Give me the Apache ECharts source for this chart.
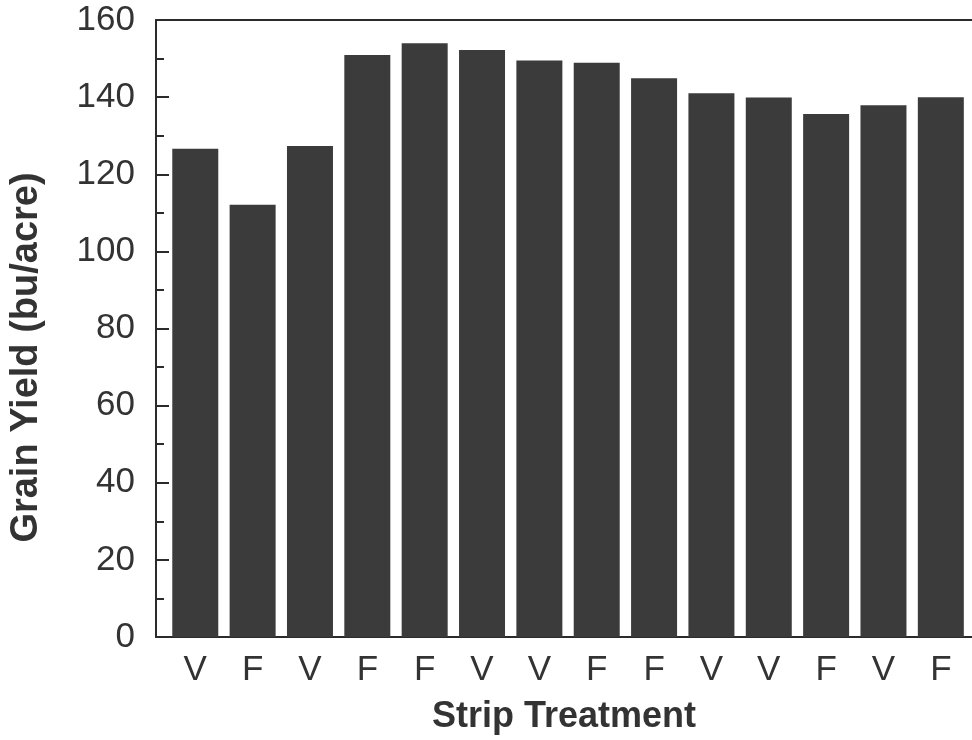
<!DOCTYPE html>
<html>
<head>
<meta charset="utf-8">
<script src="https://cdn.jsdelivr.net/npm/echarts@6/dist/echarts.min.js"></script>
<style>
  html, body { margin: 0; padding: 0; background: #fff; }
  #chart { width: 972px; height: 740px; }
</style>
</head>
<body>
<div id="chart"></div>
<script>
// Data
const categories = ['V', 'F', 'V', 'F', 'F', 'V', 'V', 'F', 'F', 'V', 'V', 'F', 'V', 'F'];
const yieldValues = [126.6, 112.1, 127.3, 150.9, 154.0, 152.2, 149.5, 148.9, 144.9, 141.0, 139.9, 135.6, 137.9, 140.0];
const yMin = 0;
const yMax = 160;
const yStep = 20;
const xTitle = 'Strip Treatment';
const yTitle = 'Grain Yield (bu/acre)';

const FONT = '"Liberation Sans", Arial, Helvetica, sans-serif';
const INK = '#333333';
const AXIS = '#2b2b2b';
const BAR = '#3b3b3b';

const chart = echarts.init(document.getElementById('chart'), null, { renderer: 'canvas' });

chart.setOption({
  backgroundColor: '#ffffff',
  animation: false,
  grid: [
    { left: 152, right: 0, top: 20, bottom: 103 },
    { left: 166.6, right: 2.5, top: 20, bottom: 103 }
  ],
  xAxis: [
    {
      gridIndex: 0, type: 'value', min: 0, max: 1, position: 'bottom',
      axisLine: { show: true, lineStyle: { color: AXIS, width: 2 } },
      axisTick: { show: false }, axisLabel: { show: false }, splitLine: { show: false },
      name: xTitle, nameLocation: 'middle', nameGap: 62,
      nameTextStyle: { fontFamily: FONT, fontSize: 36, fontWeight: 'bold', color: INK }
    },
    {
      gridIndex: 0, type: 'value', min: 0, max: 1, position: 'top',
      axisLine: { show: true, lineStyle: { color: AXIS, width: 2 } },
      axisTick: { show: false }, axisLabel: { show: false }, splitLine: { show: false }
    },
    {
      gridIndex: 1, type: 'category', data: categories,
      axisLine: { show: false }, axisTick: { show: false }, splitLine: { show: false },
      axisLabel: { fontFamily: FONT, fontSize: 35, color: INK, margin: 16, interval: 0 }
    }
  ],
  yAxis: [
    {
      gridIndex: 0, type: 'value', min: yMin, max: yMax, interval: yStep,
      axisLine: { show: true, lineStyle: { color: AXIS, width: 2 } },
      axisTick: { show: true, inside: true, length: 13, lineStyle: { color: AXIS, width: 2 } },
      minorTick: { show: true, splitNumber: 2, length: 8, lineStyle: { color: AXIS, width: 2 } },
      splitLine: { show: false },
      axisLabel: { fontFamily: FONT, fontSize: 35, color: INK, margin: 21 },
      name: yTitle, nameLocation: 'middle', nameRotate: 90, nameGap: 110,
      nameTextStyle: { fontFamily: FONT, fontSize: 38, fontWeight: 'bold', color: INK, padding: [0, 58, 0, 0] }
    },
    {
      gridIndex: 1, type: 'value', min: yMin, max: yMax, interval: yStep, show: false
    }
  ],
  series: [
    {
      type: 'bar', xAxisIndex: 2, yAxisIndex: 1,
      data: yieldValues,
      barCategoryGap: '19.8%',
      itemStyle: { color: BAR }
    }
  ]
});
</script>
</body>
</html>
